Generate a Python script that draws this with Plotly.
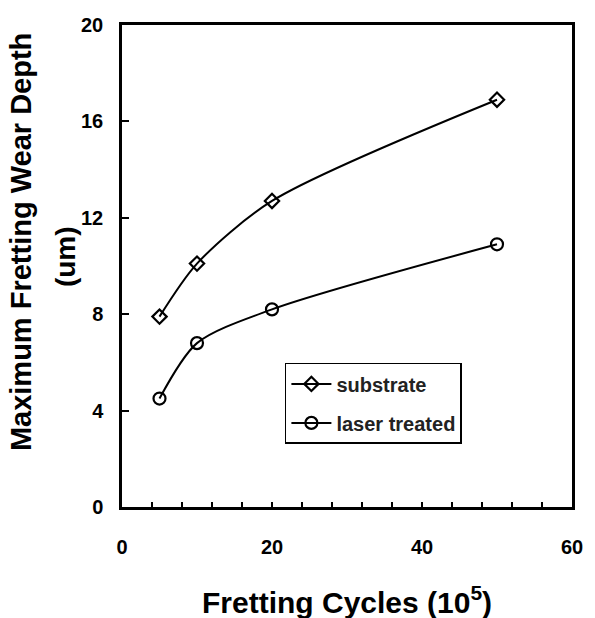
import plotly.graph_objects as go

cycles = [5, 10, 20, 50]
substrate = [7.9, 10.1, 12.7, 16.9]
laser_treated = [4.5, 6.8, 8.2, 10.9]

x_tickvals = list(range(0, 61, 4))
x_ticktext = [str(v) if v % 20 == 0 else "" for v in x_tickvals]
y_tickvals = [0, 4, 8, 12, 16, 20]

FONT = "Liberation Sans, Arial, sans-serif"

fig = go.Figure()
fig.add_trace(go.Scatter(
    x=cycles, y=substrate, name="substrate", mode="lines+markers", legendgroup="a",
    line=dict(color="black", width=2, shape="spline", smoothing=0.8),
    marker=dict(symbol="diamond-open", size=11, color="black", line=dict(width=2.2)),
))
fig.add_trace(go.Scatter(
    x=cycles, y=laser_treated, name="laser treated", mode="lines+markers", legendgroup="b",
    line=dict(color="black", width=2, shape="spline", smoothing=0.8),
    marker=dict(symbol="circle-open", size=12, color="black", line=dict(width=2.2)),
))

fig.update_layout(
    width=595, height=618,
    margin=dict(l=122, r=17, t=25, b=111),
    paper_bgcolor="white", plot_bgcolor="white",
    font=dict(family=FONT, color="black"),
    showlegend=True,
    legend=dict(
        x=0.362, y=0.299, xanchor="left", yanchor="top",
        bgcolor="white", bordercolor="black", borderwidth=1.5,
        font=dict(size=20, family=FONT, color="#222", weight="bold"),
        itemwidth=40, tracegroupgap=10,
    ),
    xaxis=dict(
        range=[0, 60], tickvals=x_tickvals, ticktext=x_ticktext,
        ticks="inside", ticklen=5, tickwidth=1.5, tickcolor="black",
        showline=True, linecolor="black", linewidth=2.5, mirror=True,
        showgrid=False, zeroline=False,
        tickfont=dict(size=20, family=FONT, weight="bold"),
        ticklabelstandoff=20,
    ),
    yaxis=dict(
        range=[0, 20], tickvals=y_tickvals,
        ticks="inside", ticklen=7, tickwidth=2, tickcolor="black",
        showline=True, linecolor="black", linewidth=2.5, mirror=True,
        showgrid=False, zeroline=False,
        tickfont=dict(size=20, family=FONT, weight="bold"),
        ticklabelstandoff=12,
    ),
    annotations=[
        dict(text="Fretting Cycles (10<sup>5</sup>)", xref="paper", yref="paper",
             x=0.5, y=-0.15, xanchor="center", yanchor="top", showarrow=False,
             font=dict(size=30, family=FONT, weight="bold")),
        dict(text="Maximum Fretting Wear Depth", xref="paper", yref="paper",
             x=-0.224, y=0.55, xanchor="center", yanchor="middle", showarrow=False,
             textangle=-90, font=dict(size=29, family=FONT, weight="bold")),
        dict(text="(um)", xref="paper", yref="paper",
             x=-0.125, y=0.52, xanchor="center", yanchor="middle", showarrow=False,
             textangle=-90, font=dict(size=28, family=FONT, weight="bold")),
    ],
)

fig.write_html("out.html")
